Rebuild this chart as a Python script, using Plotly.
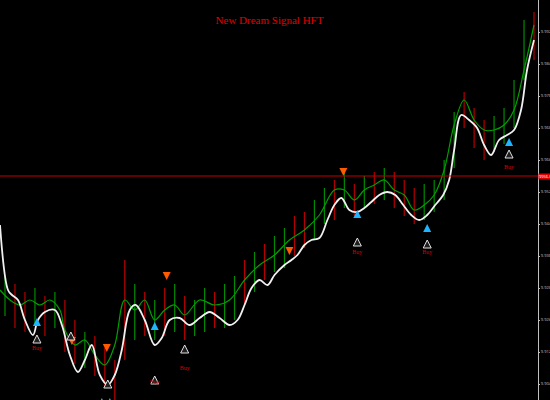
import plotly.graph_objects as go

# smoothed signal line (white)
sig_x = [0,1.6,2.4,3.6,5,6.6,7.6,9,11,12.4, 14,15.6,17,18.4,20,21.6,23,24.4,26,27.2,
         29,31,32.4,34,36,38,40,42,44,46, 47.6,49,50.4,52,53.6,55,57,58.4,59.6,61,
         62.4,64,65.6,67,68.4,70,71.6,73,74.4,76, 77.6,79.2,80.8,82.4,84,85.6,87.2,88.8,90,91,
         92.4,94,95.6,97,98.4,100,101.6,103,104.4,105.6, 107]
sig_y = [9943.75,9927.5,9926.25,9925,9920,9916.25,9920,9922,9922.5,9918.75,
         9911.25,9907,9910,9913.75,9906.25,9903.75,9906.25,9912.5,9922.5,9923.75,
         9920,9913.75,9915.5,9920,9920.5,9918.75,9920.5,9922,9920.5,9918.75,
         9920,9923.75,9928,9930,9928.75,9931.25,9933.75,9935,9936.25,9938.75,
         9940,9940.5,9945,9948.75,9950.5,9947.5,9947,9948,9949.5,9951.25,
         9952,9951.25,9948.75,9946.25,9945,9946.25,9948.75,9951.25,9955,9962.5,
         9971.25,9970,9968,9963.75,9961.25,9965,9966.25,9967.5,9972.5,9982.5,9990]

# fast line (green)
fast_x = [0,2,4,6,8,10,12,13,15,17,19,21,23,25,27,29,31,33,35,37,40,43,46,49,52,55,58,61,
          64,67,69,71,73,75,77,79,81,83,85,87,89,91,93,95,97,99,101,103,105,107]
fast_y = [9927.5,9925,9923.75,9925,9923.75,9925,9922.5,9917.5,9913.75,9915,9911.25,9908.75,
          9913.75,9925,9922.5,9925,9920,9922.5,9923.75,9921.25,9925,9923.75,9925,9930,
          9933.75,9936.25,9940,9942.5,9946.25,9952.5,9952.5,9950,9952.5,9953.75,9955,
          9952.5,9951.25,9947.5,9948.75,9951.25,9957.5,9968.75,9975,9970,9967.5,9967.5,
          9968.75,9972.5,9982.5,9993.75]

# price bars
bar_x = list(range(1, 108, 2))
bar_hi = [9931,9929,9927,9928,9926,9927,9925,9920,9917,9916,9913,9910,9935,9929,9927,9925,
          9928,9929,9926,9925,9928,9927,9929,9931,9935,9937,9939,9941,9943,9946,9947,9950,
          9953,9955,9957,9954,9956,9957,9958,9957,9955,9953,9954,9955,9960,9972,9977,9973,
          9970,9971,9973,9980,9995,9997]
bar_lo = [9921,9918,9917,9919,9916,9918,9912,9909,9908,9906,9903,9900,9910,9915,9916,9915,
          9916,9917,9915,9916,9917,9918,9918,9920,9924,9927,9930,9932,9933,9936,9938,9940,
          9944,9945,9948,9946,9948,9949,9950,9948,9946,9944,9945,9947,9950,9958,9968,9963,
          9960,9962,9964,9968,9980,9985]
bar_col = "grrgrgrrgrrrrgrgrgrggrggrgrggrrggrgrgrgrrrggggrrrggggr"

buy_up_x = [7.4, 31, 71.6, 85.6, 102, 20.4, 22]
buy_up_y = [9920.5, 9919.5, 9947.5, 9944, 9965.5, 9900.5, 9900.5]
sell_dn_x = [14.4, 21.4, 33.4, 58, 68.8]
sell_dn_y = [9913.75, 9912, 9930, 9936.25, 9956]
conf_x = [7.4, 14.2, 31, 37, 71.6, 85.6, 102, 21.6]
conf_y = [9916.25, 9917, 9906, 9913.75, 9940.5, 9940, 9962.5, 9905]
label_x = [7.4, 31, 37, 71.6, 85.6, 102]
label_y = [9913, 9904.5, 9908, 9937, 9937, 9958.25]

level = 9956

fig = go.Figure()

for col, key in [("#b40000", "r"), ("#008c00", "g")]:
    xs, ys = [], []
    for x, h, l, c in zip(bar_x, bar_hi, bar_lo, bar_col):
        if c == key:
            xs += [x, x, None]
            ys += [l, h, None]
    fig.add_trace(go.Scatter(x=xs, y=ys, mode="lines", line=dict(color=col, width=1.2),
                             hoverinfo="skip"))

fig.add_trace(go.Scatter(x=fast_x, y=fast_y, mode="lines", line=dict(color="#00a000", width=1.2, shape="spline")))
fig.add_trace(go.Scatter(x=sig_x, y=sig_y, mode="lines", line=dict(color="#f0f0f0", width=1.8, shape="spline")))

fig.add_trace(go.Scatter(x=buy_up_x, y=buy_up_y, mode="markers",
                         marker=dict(symbol="arrow-up", size=8, color="#1eb4ff")))
fig.add_trace(go.Scatter(x=sell_dn_x, y=sell_dn_y, mode="markers",
                         marker=dict(symbol="arrow-down", size=8, color="#ff5a00")))
fig.add_trace(go.Scatter(x=conf_x, y=conf_y, mode="markers",
                         marker=dict(symbol="arrow-up", size=8, color="#202020",
                                     line=dict(color="#e0e0e0", width=1))))
fig.add_trace(go.Scatter(x=label_x, y=label_y, mode="text", text=["Buy"] * len(label_x),
                         textfont=dict(color="#d00000", size=6, family="Liberation Serif")))

fig.add_hline(y=level, line=dict(color="#c00000", width=1))
fig.add_annotation(x=1.0, xref="paper", y=level, yref="y", xanchor="left", text="9956.0",
                   showarrow=False, bgcolor="#e00000", font=dict(color="white", size=4),
                   borderpad=0)

fig.update_layout(
    width=550, height=400, paper_bgcolor="black", plot_bgcolor="black",
    margin=dict(l=0, r=12, t=0, b=0, autoexpand=False), showlegend=False,
    title=dict(text="New Dream Signal HFT", x=0.49, y=0.96, xanchor="center",
               font=dict(color="#e00000", size=11, family="Liberation Serif")),
    xaxis=dict(range=[0, 107.8], showgrid=False, zeroline=False, showticklabels=False),
    yaxis=dict(range=[9900, 10000], side="right", showgrid=False, zeroline=False,
               showline=True, linecolor="#c0c0c0", linewidth=1,
               tickvals=list(range(9904, 10000, 8)), ticks="outside", ticklen=1,
               tickcolor="#c0c0c0", tickfont=dict(color="#c0c0c0", size=4)),
)

fig.write_html("out.html", config={"displayModeBar": False},
               post_script="document.body.style.margin='0';")
